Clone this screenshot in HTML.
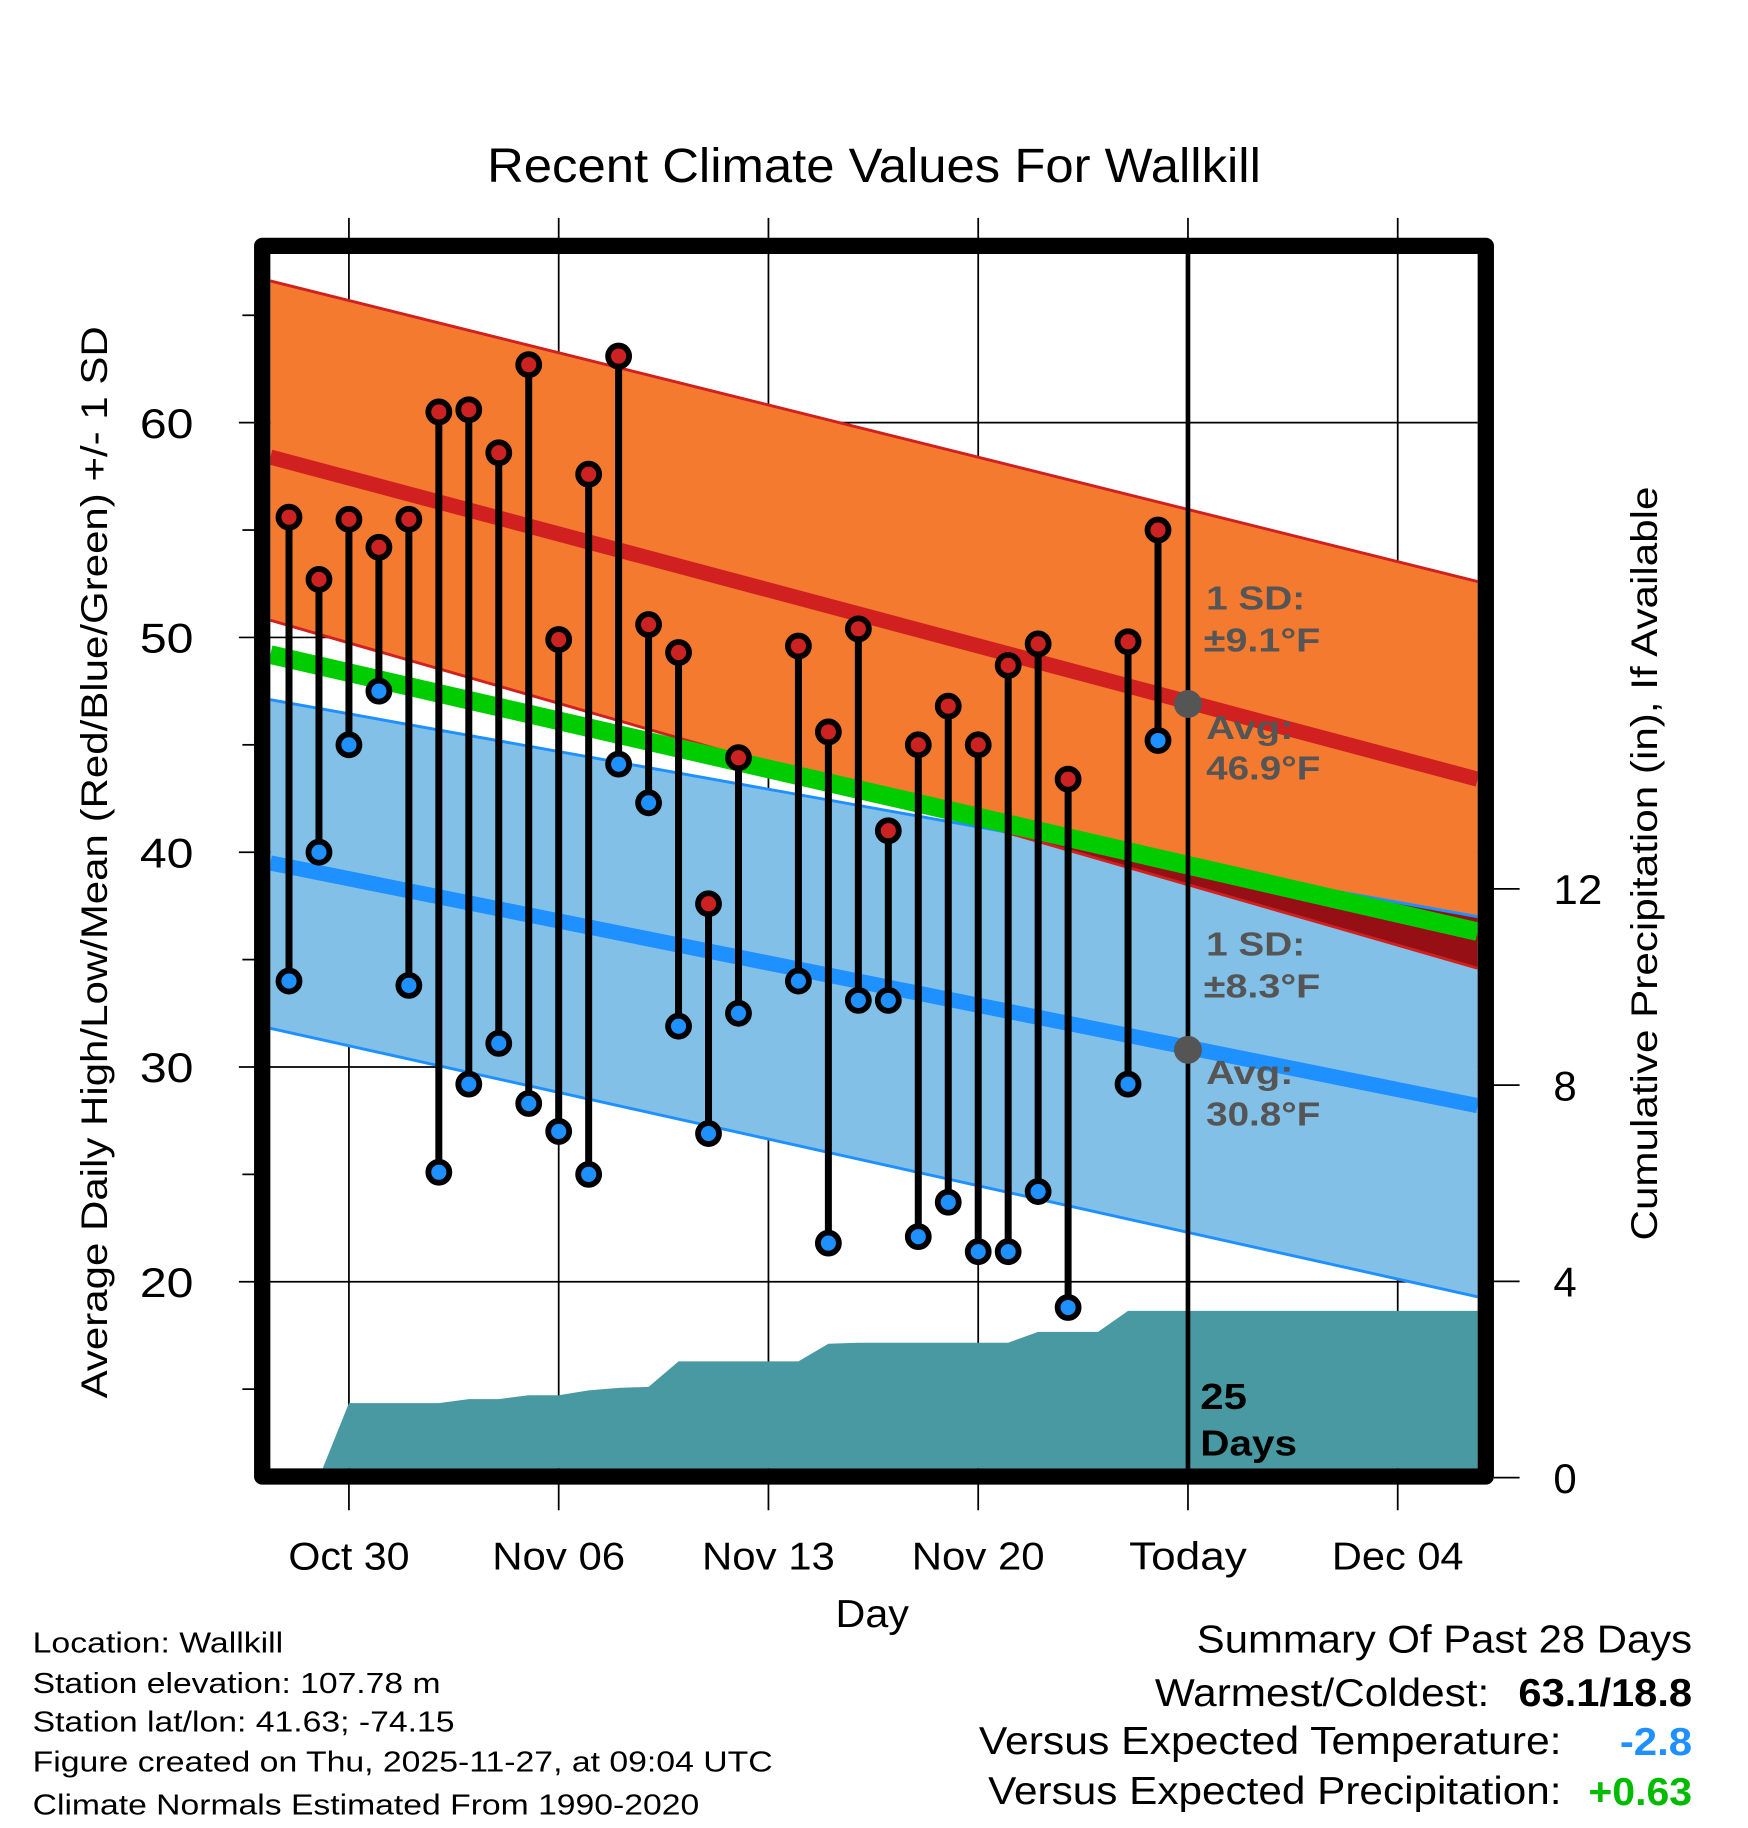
<!DOCTYPE html>
<html><head><meta charset="utf-8"><style>
html,body{margin:0;padding:0;background:#fff}
svg{display:block;font-family:"Liberation Sans",sans-serif}
</style></head><body>
<svg id="chart" width="1748" height="1828" viewBox="0 0 1500 1568.65" xmlns="http://www.w3.org/2000/svg">
<defs><clipPath id="plotclip"><rect x="232" y="218" width="1036" height="1042"/></clipPath></defs>
<text x="418" y="156" font-size="41" textLength="664" lengthAdjust="spacingAndGlyphs">Recent Climate Values For Wallkill</text>
<g id="grid"></g>
<g id="plot" clip-path="url(#plotclip)"></g>
<g id="marks"></g>
<rect x="225" y="211" width="1050" height="1056" fill="none" stroke="#000" stroke-width="14" stroke-linejoin="round"/>
<g id="axes"></g>
<g font-weight="bold" font-size="29" fill="#555">
<text x="1035" y="523" textLength="85" lengthAdjust="spacingAndGlyphs">1 SD:</text><text x="1033" y="559" textLength="100" lengthAdjust="spacingAndGlyphs">±9.1°F</text>
<text x="1035" y="634" textLength="75" lengthAdjust="spacingAndGlyphs">Avg:</text><text x="1035" y="669" textLength="98" lengthAdjust="spacingAndGlyphs">46.9°F</text>
<text x="1035" y="820" textLength="85" lengthAdjust="spacingAndGlyphs">1 SD:</text><text x="1033" y="856" textLength="100" lengthAdjust="spacingAndGlyphs">±8.3°F</text>
<text x="1035" y="930" textLength="75" lengthAdjust="spacingAndGlyphs">Avg:</text><text x="1035" y="966" textLength="98" lengthAdjust="spacingAndGlyphs">30.8°F</text>
</g>
<g font-weight="bold" font-size="31" fill="#000">
<text x="1030" y="1209" textLength="40" lengthAdjust="spacingAndGlyphs">25</text><text x="1030" y="1249" textLength="83" lengthAdjust="spacingAndGlyphs">Days</text>
</g>
<text transform="translate(92,740) rotate(-90)" font-size="32" text-anchor="middle" textLength="920" lengthAdjust="spacingAndGlyphs">Average Daily High/Low/Mean (Red/Blue/Green) +/- 1 SD</text>
<text transform="translate(1422,741) rotate(-90)" font-size="32" text-anchor="middle" textLength="647" lengthAdjust="spacingAndGlyphs">Cumulative Precipitation (in), If Available</text>
<text x="717" y="1396" font-size="33" textLength="63" lengthAdjust="spacingAndGlyphs">Day</text>
<g font-size="25">
<text x="28" y="1418" textLength="215" lengthAdjust="spacingAndGlyphs">Location: Wallkill</text>
<text x="28" y="1453" textLength="350" lengthAdjust="spacingAndGlyphs">Station elevation: 107.78 m</text>
<text x="28" y="1486" textLength="362" lengthAdjust="spacingAndGlyphs">Station lat/lon: 41.63; -74.15</text>
<text x="28" y="1520" textLength="635" lengthAdjust="spacingAndGlyphs">Figure created on Thu, 2025-11-27, at 09:04 UTC</text>
<text x="28" y="1557" textLength="572" lengthAdjust="spacingAndGlyphs">Climate Normals Estimated From 1990-2020</text>
</g>
<g font-size="33">
<text x="1027" y="1418" textLength="425" lengthAdjust="spacingAndGlyphs">Summary Of Past 28 Days</text>
<text x="991" y="1464" textLength="287" lengthAdjust="spacingAndGlyphs">Warmest/Coldest:</text>
<text x="1303" y="1464" font-weight="bold" textLength="149" lengthAdjust="spacingAndGlyphs">63.1/18.8</text>
<text x="840" y="1505" textLength="500" lengthAdjust="spacingAndGlyphs">Versus Expected Temperature:</text>
<text x="1390" y="1506" font-weight="bold" fill="#1e90ff" textLength="62" lengthAdjust="spacingAndGlyphs">-2.8</text>
<text x="848" y="1548" textLength="492" lengthAdjust="spacingAndGlyphs">Versus Expected Precipitation:</text>
<text x="1363" y="1549" font-weight="bold" fill="#00bb00" textLength="89" lengthAdjust="spacingAndGlyphs">+0.63</text>
</g>
</svg>
<script>
// day index 0 = Oct 28
const highs = [55.6,52.7,55.5,54.2,55.5,60.5,60.6,58.6,62.7,49.9,57.6,63.1,50.6,49.3,37.6,44.4,null,49.6,45.6,50.4,41.0,45.0,46.8,45.0,48.7,49.7,43.4,null,49.8,55.0];
const lows  = [34.0,40.0,45.0,47.5,33.8,25.1,29.2,31.1,28.3,27.0,25.0,44.1,42.3,31.9,26.9,32.5,null,34.0,21.8,33.1,33.1,22.1,23.7,21.4,21.4,24.2,18.8,null,29.2,45.2];
const precip = [0,0,1.52,1.52,1.52,1.52,1.60,1.60,1.68,1.68,1.78,1.83,1.85,2.37,2.37,2.37,2.37,2.37,2.73,2.75,2.75,2.75,2.75,2.75,2.75,2.97,2.97,2.97,3.40,3.40];
const xTickLabels = ["Oct 30","Nov 06","Nov 13","Nov 20","Today","Dec 04"];
const xTickDays = [2,9,16,23,30,37];
const xTickWidths = [104,114,114,114,101,113];
const yTicks = [20,30,40,50,60];
const y2Ticks = [0,4,8,12];
// normals at left edge / right edge of plot
const highAvg = [58.4,43.4], highUp = [66.6,52.6], highLo = [50.8,34.6];
const lowAvg = [39.5,28.2], lowUp = [47.1,37.0], lowLo = [31.8,19.3];
const meanAvg = [49.2,36.3];
const todayHigh = 46.9, todayLow = 30.8, todayDay = 30;

const NS="http://www.w3.org/2000/svg";
const X0=232,X1=1268;
const xs = d => 248 + d*25.714;
const ys = v => 547 - (v-50)*18.43;
const yp = p => 1268 - p*42.1;
function el(tag,attrs,parent){const e=document.createElementNS(NS,tag);for(const k in attrs)e.setAttribute(k,attrs[k]);parent.appendChild(e);return e;}
const grid=document.getElementById('grid'),plot=document.getElementById('plot'),marks=document.getElementById('marks'),axes=document.getElementById('axes');

function band(a,b){return `${X0},${ys(a[0])} ${X1},${ys(a[1])} ${X1},${ys(b[1])} ${X0},${ys(b[0])}`;}
let e;
e=el('polygon',{points:band(highUp,highLo),fill:'#f47a30'},plot);


e=el('clipPath',{id:'hiclip'},plot);
el('polygon',{points:band(highUp,highLo)},e);
e=el('polygon',{points:band(lowUp,lowLo),fill:'#82c0e8'},plot);


e=el('polygon',{points:band(lowUp,lowLo),fill:'#960f14','clip-path':'url(#hiclip)'},plot);


function line(a,color,w,name){const l=el('line',{x1:X0,y1:ys(a[0]),x2:X1,y2:ys(a[1]),stroke:color,'stroke-width':w},plot);

}
line(highUp,'#d02020',2.5,'high-upper-sd-line');
line(highLo,'#d02020',2.5,'high-lower-sd-line');
line(lowUp,'#1e90ff',2.5,'low-upper-sd-line');
line(lowLo,'#1e90ff',2.5,'low-lower-sd-line');
line(highAvg,'#d02020',13,'high-average-line');
line(lowAvg,'#1e90ff',13,'low-average-line');
line(meanAvg,'#00cc00',16,'mean-average-line');

// precip area
let pts=`${xs(0)},1300 `;
precip.forEach((p,i)=>{pts+=`${xs(i)},${yp(p)} `;});
pts+=`${X1+10},${yp(precip[precip.length-1])} ${X1+10},1300`;
e=el('polygon',{points:pts,fill:'#4899a2'},plot);



// grid
xTickDays.forEach((d,i)=>{
 const g=el('line',{x1:xs(d),y1:187,x2:xs(d),y2:1296,stroke:'#000','stroke-width':1.5},grid);
 
 
 const t=el('text',{x:xs(d)-xTickWidths[i]/2,y:1347,'font-size':33,textLength:xTickWidths[i],lengthAdjust:'spacingAndGlyphs'},axes);
 t.textContent=xTickLabels[i];
 
 
});
yTicks.forEach(v=>{
 const g=el('line',{x1:205,y1:ys(v),x2:X1,y2:ys(v),stroke:'#000','stroke-width':1.5},grid);
 
 
 const t=el('text',{x:120,y:ys(v)+13,'font-size':36,textLength:46,lengthAdjust:'spacingAndGlyphs'},axes);
 t.textContent=v;
 
 
});
[15,25,35,45,55,65].forEach(v=>{
 const g=el('line',{x1:208,y1:ys(v),x2:218,y2:ys(v),stroke:'#000','stroke-width':1.5},axes);
 
 
});
y2Ticks.forEach(p=>{
 const g=el('line',{x1:1282,y1:yp(p),x2:1304,y2:yp(p),stroke:'#000','stroke-width':1.5},axes);
 
 
 const attrs={x:1333,y:yp(p)+13,'font-size':36};
 if(String(p).length>1){attrs.textLength=42;attrs.lengthAdjust='spacingAndGlyphs';}
 const t=el('text',attrs,axes);
 t.textContent=p;
 
 
});

// today line
e=el('line',{x1:xs(todayDay),y1:218,x2:xs(todayDay),y2:1260,stroke:'#000','stroke-width':4},marks);


[todayHigh,todayLow].forEach(v=>{
 const c=el('circle',{cx:xs(todayDay),cy:ys(v),r:12,fill:'#555'},marks);
 
 
});

// stems and markers
highs.forEach((h,i)=>{
 if(h==null)return;
 const s=el('line',{x1:xs(i),y1:ys(h),x2:xs(i),y2:ys(lows[i]),stroke:'#000','stroke-width':6},marks);
 
 
});
highs.forEach((h,i)=>{
 if(h==null)return;
 const a=el('circle',{cx:xs(i),cy:ys(h),r:9,fill:'#cc2222',stroke:'#000','stroke-width':5},marks);
 
 
 const b=el('circle',{cx:xs(i),cy:ys(lows[i]),r:9,fill:'#1e90ff',stroke:'#000','stroke-width':5},marks);
 
 
});
</script>
</body></html>
